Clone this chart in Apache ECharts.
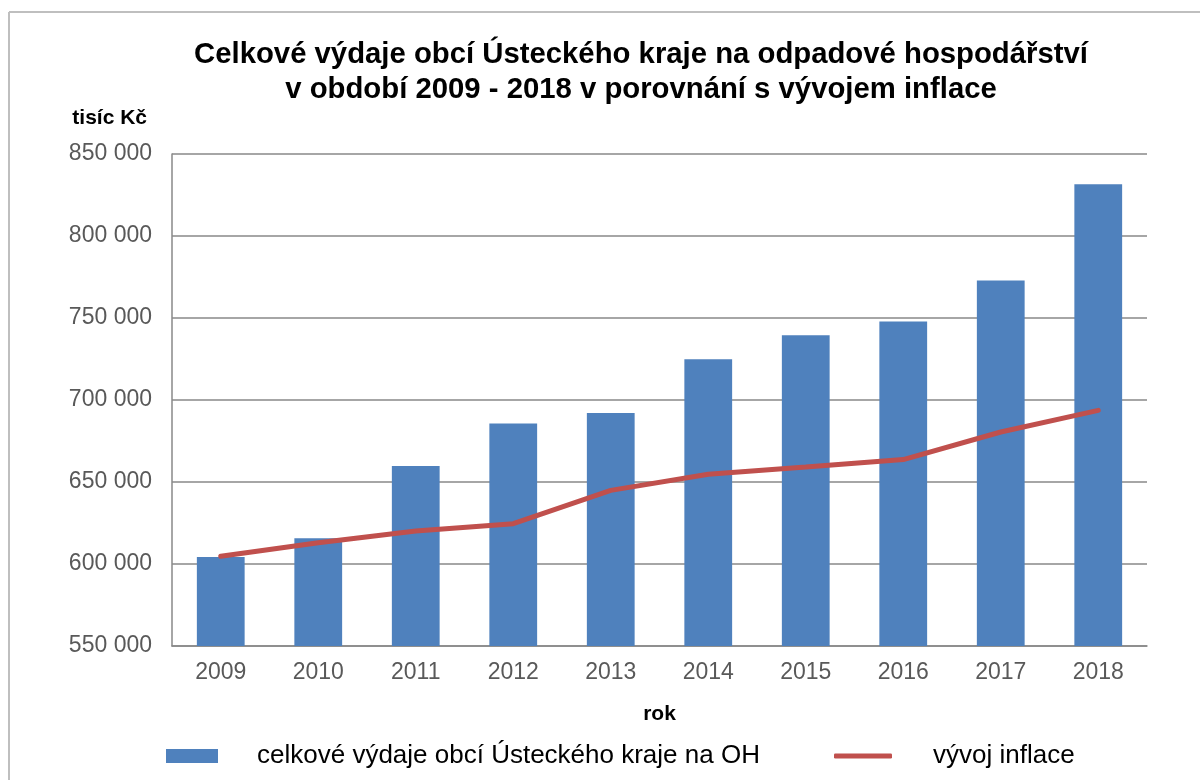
<!DOCTYPE html>
<html lang="cs">
<head>
    <meta charset="UTF-8">
    <title>Výdaje obcí na odpadové hospodářství</title>
    <script src="https://cdn.jsdelivr.net/npm/echarts@6/dist/echarts.min.js"></script>
    <style>
        html, body { margin: 0; padding: 0; background: #fff; }
        #chart { width: 1200px; height: 780px; }
    </style>
</head>
<body>
<div id="chart"></div>
<script>
    // data (tisíc Kč)
    var years = ['2009', '2010', '2011', '2012', '2013', '2014', '2015', '2016', '2017', '2018'];
    var vydaje = [604300, 615700, 659800, 685600, 692100, 724800, 739500, 747800, 772800, 831500];
    var inflace = [604700, 613000, 620100, 624600, 644900, 654700, 659100, 663700, 680500, 693700];
    var nazevVydaje = 'celkové výdaje obcí Ústeckého kraje na OH';
    var nazevInflace = 'vývoj inflace';

    var font = "'Liberation Sans', Arial, sans-serif";

    var myChart = echarts.init(document.getElementById('chart'));

    var option = {
        backgroundColor: '#fff',
        animation: false,
        textStyle: { fontFamily: font },
        title: {
            text: 'Celkové výdaje obcí Ústeckého kraje na odpadové hospodářství\nv období 2009 - 2018 v porovnání s vývojem inflace',
            left: 636,
            textAlign: 'center',
            top: 32,
            textStyle: {
                fontFamily: font,
                fontSize: 29.3,
                fontWeight: 'bold',
                color: '#000',
                lineHeight: 35
            }
        },
        // rámeček grafu
        graphic: [
            { type: 'line', shape: { x1: 9, y1: 12, x2: 1200, y2: 12 }, style: { stroke: '#bfbfbf', lineWidth: 2 } },
            { type: 'line', shape: { x1: 9, y1: 12, x2: 9, y2: 780 }, style: { stroke: '#bfbfbf', lineWidth: 2 } }
        ],
        legend: [
            {
                data: [nazevVydaje],
                left: 161,
                top: 738,
                icon: 'rect',
                itemWidth: 52,
                itemHeight: 14,
                textStyle: { fontFamily: font, fontSize: 26, color: '#000', padding: [0, 0, 0, 34] }
            },
            {
                data: [nazevInflace],
                left: 829,
                top: 738,
                icon: 'roundRect',
                itemWidth: 58,
                itemHeight: 5,
                textStyle: { fontFamily: font, fontSize: 26, color: '#000', padding: [0, 0, 0, 36] }
            }
        ],
        grid: { left: 172, right: 53, top: 154, bottom: 134 },
        xAxis: {
            type: 'category',
            data: years,
            name: 'rok',
            nameLocation: 'middle',
            nameGap: 58,
            nameTextStyle: { fontFamily: font, fontSize: 21, fontWeight: 'bold', color: '#000' },
            axisLine: { lineStyle: { color: '#888', width: 1.5 } },
            axisTick: { length: 6, lineStyle: { color: '#888', width: 1.5 } },
            axisLabel: { margin: 15, fontSize: 23, color: '#595959', fontFamily: font }
        },
        yAxis: {
            type: 'value',
            min: 550000,
            max: 850000,
            interval: 50000,
            name: 'tisíc Kč',
            nameLocation: 'end',
            nameGap: 36,
            nameTextStyle: { fontFamily: font, fontSize: 21, fontWeight: 'bold', color: '#000', align: 'right', verticalAlign: 'middle', padding: [0, 25, 0, 0] },
            axisLine: { show: true, lineStyle: { color: '#888', width: 1.5 } },
            axisTick: { show: false },
            axisLabel: {
                margin: 20,
                fontSize: 23,
                color: '#595959',
                fontFamily: font,
                formatter: function (v) {
                    return String(v).replace(/\B(?=(\d{3})+(?!\d))/g, ' ');
                }
            },
            splitLine: { lineStyle: { color: '#888', width: 1.5 } }
        },
        series: [
            {
                name: nazevVydaje,
                type: 'bar',
                data: vydaje,
                barWidth: '49%',
                itemStyle: { color: '#4F81BD' }
            },
            {
                name: nazevInflace,
                type: 'line',
                data: inflace,
                symbol: 'none',
                lineStyle: { color: '#C0504D', width: 5, cap: 'round' },
                itemStyle: { color: '#C0504D' }
            }
        ]
    };

    myChart.setOption(option);
</script>
</body>
</html>
